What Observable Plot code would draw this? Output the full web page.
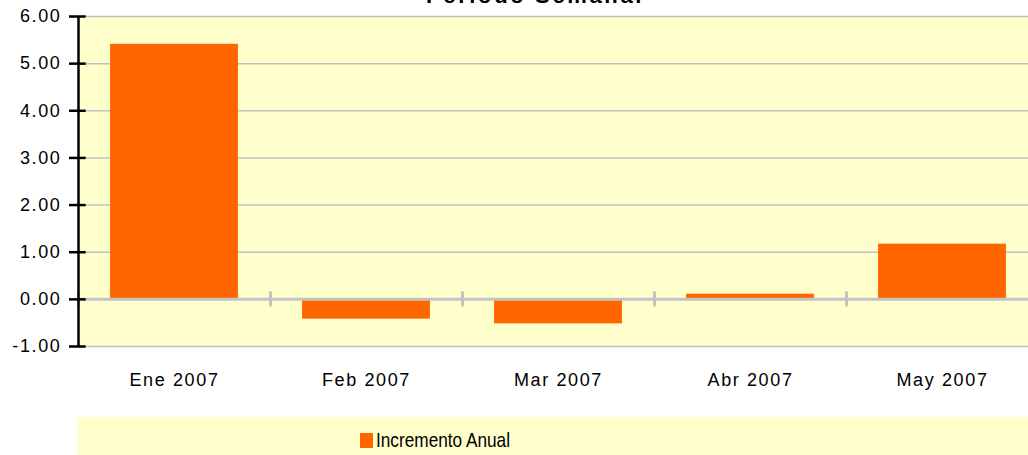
<!DOCTYPE html>
<html><head><meta charset="utf-8">
<script src="https://cdn.jsdelivr.net/npm/d3@7"></script>
<script src="https://cdn.jsdelivr.net/npm/@observablehq/plot@0.6"></script>
<style>
body{margin:0;background:#fff;font-family:"Liberation Sans",Arial,sans-serif;}
#wrap{position:relative;width:1028px;height:455px;overflow:hidden;}
#title{position:absolute;left:0;width:1070px;text-align:center;top:-15px;font-size:22px;line-height:22px;font-weight:bold;letter-spacing:0.12em;}
#chart{position:absolute;left:0;top:0;width:1038px;}
#chart svg{max-width:none !important;}
#legend{position:absolute;left:77px;top:417px;width:951px;height:38px;background:#FFFFCC;}
#legend .sw{position:absolute;left:283px;top:16px;width:13px;height:15px;background:#FF6600;}
#legend .lb{position:absolute;left:299px;top:11px;font-size:21px;line-height:24px;transform:scaleX(0.82);transform-origin:left center;white-space:nowrap;}
</style></head>
<body>
<div id="wrap">
<div id="chart"></div>
<div id="title">Periodo Semanal</div>
<div id="legend"><div class="sw"></div><div class="lb">Incremento Anual</div></div>
</div>
<script>
const categories = ["Ene 2007", "Feb 2007", "Mar 2007", "Abr 2007", "May 2007"];
const values = [5.41, -0.42, -0.52, 0.11, 1.17];
const yTicks = [-1, 0, 1, 2, 3, 4, 5, 6];
const seriesName = "Incremento Anual";

const data = categories.map((c, i) => ({cat: c, i, v: values[i]}));
const boundaries = categories.slice(1).map((c, i) => i + 0.5);
const halfBar = 0.333;

const chart = Plot.plot({
  width: 1038,
  height: 400,
  marginLeft: 78,
  marginRight: 0,
  marginTop: 16,
  marginBottom: 54,
  style: {fontFamily: "'Liberation Sans', Arial, sans-serif", fontSize: "18px", color: "#000", letterSpacing: "0.09em", background: "transparent", maxWidth: "none"},
  x: {type: "linear", domain: [-0.5, 4.5], axis: null},
  y: {domain: [-1, 6], axis: null},
  marks: [
    Plot.frame({fill: "#FFFFCC", stroke: null}),
    Plot.ruleY(yTicks.filter(d => d !== 0), {stroke: "#C0C0C0", strokeWidth: 1.5}),
    Plot.rectY(data, {x1: d => d.i - halfBar, x2: d => d.i + halfBar, y1: 0, y2: "v", fill: "#FF6600"}),
    Plot.ruleY([0], {stroke: "#C4C4C4", strokeWidth: 3}),
    Plot.ruleX([-0.5, ...boundaries], {y1: -0.16, y2: 0.16, stroke: "#C4C4C4", strokeWidth: 3}),
    Plot.ruleX([-0.5], {stroke: "#000", strokeWidth: 2.5}),
    Plot.ruleY(yTicks, {x1: -0.5, x2: -0.5 + 0.04, stroke: "#000", strokeWidth: 2.5}),
    Plot.axisY({ticks: yTicks, label: null, tickFormat: d => d.toFixed(2), tickSize: 9, tickPadding: 8, stroke: "#000", strokeWidth: 2.5}),
    Plot.axisX({ticks: categories.map((c, i) => i), label: null, tickFormat: i => categories[i], tickSize: 0, tickPadding: 27})
  ]
});
document.getElementById("chart").appendChild(chart);
</script>
</body></html>
